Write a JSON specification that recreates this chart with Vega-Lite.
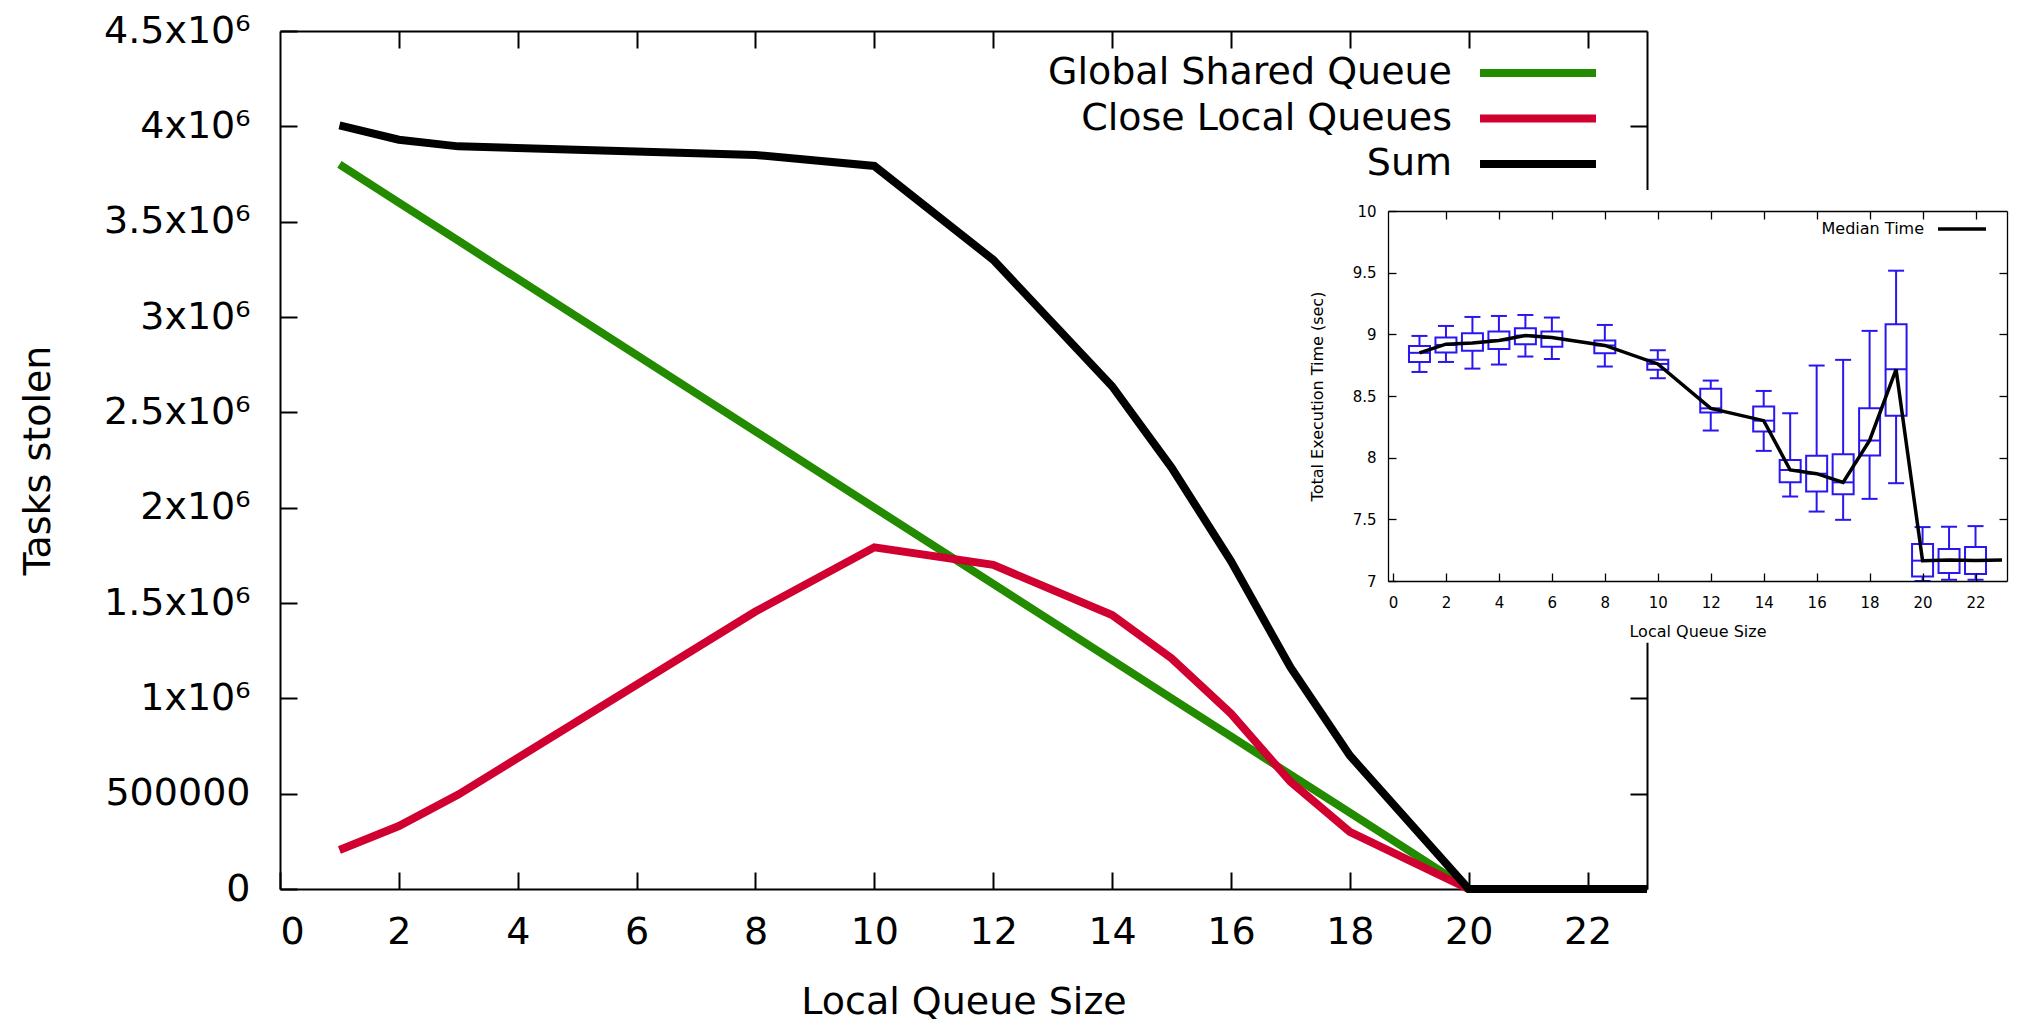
{
  "$schema": "https://vega.github.io/schema/vega-lite/v6.json",
  "width": 1367,
  "height": 858,
  "autosize": {"type": "none"},
  "padding": {"left": 280, "top": 31, "right": 374, "bottom": 133},
  "background": "white",
  "config": {
    "font": "DejaVu Sans",
    "view": {"stroke": null},
    "axis": {"grid": false, "labelColor": "black", "titleColor": "black", "titleFontWeight": "normal", "domainColor": "black", "tickColor": "black", "labelFont": "DejaVu Sans", "titleFont": "DejaVu Sans"},
    "legend": {"labelFont": "DejaVu Sans", "labelColor": "black"}
  },
  "datasets": {
    "tasks": [
      {"size": 1, "series": "Global Shared Queue", "tasks": 3800000},
      {"size": 2, "series": "Global Shared Queue", "tasks": 3600000},
      {"size": 3, "series": "Global Shared Queue", "tasks": 3400000},
      {"size": 8, "series": "Global Shared Queue", "tasks": 2400000},
      {"size": 10, "series": "Global Shared Queue", "tasks": 2000000},
      {"size": 12, "series": "Global Shared Queue", "tasks": 1600000},
      {"size": 14, "series": "Global Shared Queue", "tasks": 1200000},
      {"size": 15, "series": "Global Shared Queue", "tasks": 1000000},
      {"size": 16, "series": "Global Shared Queue", "tasks": 800000},
      {"size": 17, "series": "Global Shared Queue", "tasks": 600000},
      {"size": 18, "series": "Global Shared Queue", "tasks": 400000},
      {"size": 20, "series": "Global Shared Queue", "tasks": 0},
      {"size": 21, "series": "Global Shared Queue", "tasks": 0},
      {"size": 22, "series": "Global Shared Queue", "tasks": 0},
      {"size": 23, "series": "Global Shared Queue", "tasks": 0},
      {"size": 1, "series": "Close Local Queues", "tasks": 205000},
      {"size": 2, "series": "Close Local Queues", "tasks": 330000},
      {"size": 3, "series": "Close Local Queues", "tasks": 495000},
      {"size": 8, "series": "Close Local Queues", "tasks": 1455000},
      {"size": 10, "series": "Close Local Queues", "tasks": 1792000},
      {"size": 12, "series": "Close Local Queues", "tasks": 1700000},
      {"size": 14, "series": "Close Local Queues", "tasks": 1437000},
      {"size": 15, "series": "Close Local Queues", "tasks": 1210000},
      {"size": 16, "series": "Close Local Queues", "tasks": 920000},
      {"size": 17, "series": "Close Local Queues", "tasks": 563000},
      {"size": 18, "series": "Close Local Queues", "tasks": 300000},
      {"size": 20, "series": "Close Local Queues", "tasks": 0},
      {"size": 21, "series": "Close Local Queues", "tasks": 0},
      {"size": 22, "series": "Close Local Queues", "tasks": 0},
      {"size": 23, "series": "Close Local Queues", "tasks": 0},
      {"size": 1, "series": "Sum", "tasks": 4005000},
      {"size": 2, "series": "Sum", "tasks": 3930000},
      {"size": 3, "series": "Sum", "tasks": 3895000},
      {"size": 8, "series": "Sum", "tasks": 3850000},
      {"size": 10, "series": "Sum", "tasks": 3792000},
      {"size": 12, "series": "Sum", "tasks": 3300000},
      {"size": 14, "series": "Sum", "tasks": 2637000},
      {"size": 15, "series": "Sum", "tasks": 2210000},
      {"size": 16, "series": "Sum", "tasks": 1720000},
      {"size": 17, "series": "Sum", "tasks": 1163000},
      {"size": 18, "series": "Sum", "tasks": 700000},
      {"size": 20, "series": "Sum", "tasks": 0},
      {"size": 21, "series": "Sum", "tasks": 0},
      {"size": 22, "series": "Sum", "tasks": 0},
      {"size": 23, "series": "Sum", "tasks": 0}
    ],
    "boxes": [
      {"size": 1, "lo": 8.695, "q1": 8.776, "med": 8.85, "q3": 8.906, "hi": 8.987},
      {"size": 2, "lo": 8.776, "q1": 8.852, "med": 8.914, "q3": 8.974, "hi": 9.068},
      {"size": 3, "lo": 8.722, "q1": 8.866, "med": 8.93, "q3": 9.009, "hi": 9.141},
      {"size": 4, "lo": 8.755, "q1": 8.882, "med": 8.952, "q3": 9.022, "hi": 9.149},
      {"size": 5, "lo": 8.82, "q1": 8.92, "med": 8.99, "q3": 9.049, "hi": 9.157},
      {"size": 6, "lo": 8.8, "q1": 8.9, "med": 8.97, "q3": 9.022, "hi": 9.136},
      {"size": 8, "lo": 8.739, "q1": 8.847, "med": 8.91, "q3": 8.949, "hi": 9.076},
      {"size": 10, "lo": 8.644, "q1": 8.712, "med": 8.76, "q3": 8.793, "hi": 8.871},
      {"size": 12, "lo": 8.22, "q1": 8.366, "med": 8.4, "q3": 8.558, "hi": 8.625},
      {"size": 14, "lo": 8.055, "q1": 8.212, "med": 8.3, "q3": 8.414, "hi": 8.541},
      {"size": 15, "lo": 7.685, "q1": 7.8, "med": 7.9, "q3": 7.982, "hi": 8.36},
      {"size": 16, "lo": 7.563, "q1": 7.725, "med": 7.87, "q3": 8.015, "hi": 8.747},
      {"size": 17, "lo": 7.496, "q1": 7.704, "med": 7.8, "q3": 8.028, "hi": 8.793},
      {"size": 18, "lo": 7.666, "q1": 8.017, "med": 8.139, "q3": 8.4, "hi": 9.028},
      {"size": 19, "lo": 7.793, "q1": 8.339, "med": 8.717, "q3": 9.082, "hi": 9.516},
      {"size": 20, "lo": 7.0, "q1": 7.037, "med": 7.165, "q3": 7.3, "hi": 7.437},
      {"size": 21, "lo": 7.01, "q1": 7.064, "med": 7.17, "q3": 7.26, "hi": 7.44},
      {"size": 22, "lo": 7.01, "q1": 7.056, "med": 7.166, "q3": 7.275, "hi": 7.445}
    ],
    "median": [
      {"size": 1, "time": 8.85},
      {"size": 2, "time": 8.92},
      {"size": 3, "time": 8.93},
      {"size": 4, "time": 8.95},
      {"size": 5, "time": 8.99},
      {"size": 6, "time": 8.975},
      {"size": 8, "time": 8.91},
      {"size": 10, "time": 8.76},
      {"size": 12, "time": 8.4},
      {"size": 14, "time": 8.3},
      {"size": 15, "time": 7.9},
      {"size": 16, "time": 7.87},
      {"size": 17, "time": 7.8},
      {"size": 18, "time": 8.14},
      {"size": 19, "time": 8.715},
      {"size": 20, "time": 7.165},
      {"size": 21, "time": 7.17},
      {"size": 22, "time": 7.166},
      {"size": 23, "time": 7.17}
    ]
  },
  "layer": [
    {
      "layer": [
        {
          "data": {"name": "tasks"},
          "mark": {"type": "line", "strokeWidth": 8},
          "encoding": {
            "x": {
              "field": "size", "type": "quantitative",
              "scale": {"domain": [0, 23], "nice": false, "zero": false},
              "axis": {"orient": "bottom", "values": [0, 2, 4, 6, 8, 10, 12, 14, 16, 18, 20, 22], "title": "Local Queue Size", "labelFontSize": 38, "titleFontSize": 38, "tickSize": -17, "tickWidth": 2, "domainWidth": 2, "labelPadding": 41, "titlePadding": 32}
            },
            "y": {
              "field": "tasks", "type": "quantitative",
              "scale": {"domain": [0, 4500000], "nice": false},
              "axis": {"orient": "left", "values": [0, 500000, 1000000, 1500000, 2000000, 2500000, 3000000, 3500000, 4000000, 4500000], "labelExpr": "datum.value == 0 ? '0' : datum.value == 500000 ? '500000' : (datum.value / 1000000) + 'x10⁶'", "title": "Tasks stolen", "labelFontSize": 38, "titleFontSize": 38, "tickSize": -17, "tickWidth": 2, "domainWidth": 2, "labelPadding": 47, "titlePadding": 46}
            },
            "color": {
              "field": "series", "type": "nominal",
              "scale": {"domain": ["Global Shared Queue", "Close Local Queues", "Sum"], "range": ["#228b00", "#d00030", "#000000"]},
              "legend": {"orient": "none", "legendX": 1232, "legendY": 16, "title": null, "symbolType": "M-2.636,0H2.636", "symbolSize": 1936, "symbolStrokeWidth": 8, "labelFontSize": 38, "labelAlign": "right", "labelOffset": -112, "rowPadding": 0.5, "padding": 0, "labelLimit": 1000}
            }
          }
        },
        {
          "data": {"name": "tasks"},
          "mark": {"type": "point", "opacity": 0},
          "encoding": {
            "x": {"field": "size", "type": "quantitative", "axis": {"orient": "top", "values": [2, 4, 6, 8, 10, 12, 14, 16, 18, 20, 22], "labels": false, "title": null, "tickSize": -17, "tickWidth": 2, "domainWidth": 2}},
            "y": {"field": "tasks", "type": "quantitative", "axis": {"orient": "right", "values": [500000, 1000000, 1500000, 2000000, 2500000, 3000000, 3500000, 4000000], "labels": false, "title": null, "tickSize": -17, "tickWidth": 2, "domainWidth": 2}}
          }
        }
      ],
      "resolve": {"axis": {"x": "independent", "y": "independent"}}
    },
    {
      "layer": [
        {
          "data": {"values": [{"panel": "inset"}]},
          "mark": {"type": "rect", "fill": "white"},
          "encoding": {
            "x": {
              "datum": -3.4, "type": "quantitative",
              "scale": {"domain": [0, 23], "range": [1108, 1727], "nice": false, "zero": false},
              "axis": {"orient": "bottom", "offset": -308, "zindex": 1, "values": [0, 2, 4, 6, 8, 10, 12, 14, 16, 18, 20, 22], "title": "Local Queue Size", "labelFontSize": 15, "titleFontSize": 16, "tickSize": -8, "tickWidth": 1.3, "domainWidth": 1.3, "labelPadding": 22, "titlePadding": 13}
            },
            "x2": {"datum": 23.6},
            "y": {
              "datum": 10.17, "type": "quantitative",
              "scale": {"domain": [7, 10], "range": [550, 180], "nice": false, "zero": false},
              "axis": {"orient": "left", "offset": -1108, "zindex": 1, "values": [7, 7.5, 8, 8.5, 9, 9.5, 10], "labelExpr": "'' + datum.value", "title": "Total Execution Time (sec)", "labelFontSize": 15, "titleFontSize": 16, "tickSize": -8, "tickWidth": 1.3, "domainWidth": 1.3, "labelPadding": 20, "titlePadding": 27}
            },
            "y2": {"datum": 6.5}
          }
        },
        {
          "data": {"name": "boxes"},
          "mark": {"type": "rule", "stroke": "#2a17f0", "strokeWidth": 2},
          "encoding": {
            "x": {"field": "size", "type": "quantitative", "axis": null},
            "y": {"field": "lo", "type": "quantitative", "axis": null},
            "y2": {"field": "hi"}
          }
        },
        {
          "data": {"name": "boxes"},
          "mark": {"type": "tick", "orient": "horizontal", "color": "#2a17f0", "size": 16, "thickness": 2, "opacity": 1},
          "encoding": {
            "x": {"field": "size", "type": "quantitative", "axis": null},
            "y": {"field": "lo", "type": "quantitative", "axis": null}
          }
        },
        {
          "data": {"name": "boxes"},
          "mark": {"type": "tick", "orient": "horizontal", "color": "#2a17f0", "size": 16, "thickness": 2, "opacity": 1},
          "encoding": {
            "x": {"field": "size", "type": "quantitative", "axis": null},
            "y": {"field": "hi", "type": "quantitative", "axis": null}
          }
        },
        {
          "data": {"name": "boxes"},
          "mark": {"type": "bar", "width": 21, "fill": "white", "stroke": "#2a17f0", "strokeWidth": 2},
          "encoding": {
            "x": {"field": "size", "type": "quantitative", "axis": null},
            "y": {"field": "q1", "type": "quantitative", "axis": null},
            "y2": {"field": "q3"}
          }
        },
        {
          "data": {"name": "boxes"},
          "mark": {"type": "tick", "orient": "horizontal", "color": "#2a17f0", "size": 21, "thickness": 2, "opacity": 1},
          "encoding": {
            "x": {"field": "size", "type": "quantitative", "axis": null},
            "y": {"field": "med", "type": "quantitative", "axis": null}
          }
        },
        {
          "data": {"name": "median"},
          "mark": {"type": "line", "strokeWidth": 3.5},
          "encoding": {
            "x": {"field": "size", "type": "quantitative", "axis": null},
            "y": {"field": "time", "type": "quantitative", "axis": null},
            "color": {
              "datum": "Median Time", "type": "nominal",
              "scale": {"domain": ["Median Time"], "range": ["#000000"]},
              "legend": {"orient": "none", "legendX": 1656, "legendY": 172, "title": null, "symbolType": "stroke", "symbolSize": 2304, "symbolStrokeWidth": 3.5, "labelFontSize": 16, "labelAlign": "right", "labelOffset": -64, "padding": 0, "labelLimit": 500}
            }
          }
        },
        {
          "data": {"name": "median"},
          "mark": {"type": "point", "opacity": 0},
          "encoding": {
            "x": {"field": "size", "type": "quantitative", "axis": {"orient": "top", "offset": -180, "zindex": 1, "values": [2, 4, 6, 8, 10, 12, 14, 16, 18, 20, 22], "labels": false, "title": null, "tickSize": -8, "tickWidth": 1.3, "domainWidth": 1.3}},
            "y": {"field": "time", "type": "quantitative", "axis": {"orient": "right", "offset": 360, "zindex": 1, "values": [7.5, 8, 8.5, 9, 9.5], "labels": false, "title": null, "tickSize": -8, "tickWidth": 1.3, "domainWidth": 1.3}}
          }
        }
      ],
      "resolve": {"axis": {"x": "independent", "y": "independent"}}
    }
  ],
  "resolve": {
    "scale": {"x": "independent", "y": "independent", "color": "independent"},
    "axis": {"x": "independent", "y": "independent"},
    "legend": {"color": "independent"}
  }
}
